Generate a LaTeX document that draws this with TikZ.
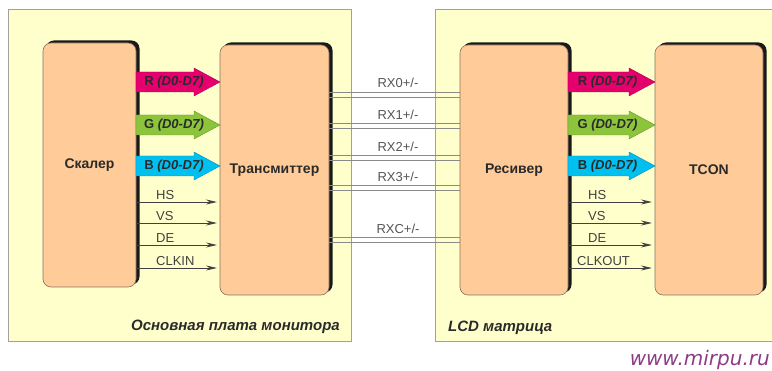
\documentclass[tikz,border=0pt]{standalone}
\usepackage{fontspec}
\setmainfont{Liberation Sans}
\newfontfamily\wmfont{DejaVu Sans}
\usetikzlibrary{calc,arrows.meta}
\definecolor{panelfill}{HTML}{FFFFCC}
\definecolor{panelline}{HTML}{A0A0A0}
\definecolor{boxfill}{HTML}{FFCC99}
\definecolor{boxline}{HTML}{8A7060}
\definecolor{rcol}{HTML}{E6006E}
\definecolor{gcol}{HTML}{8CC43C}
\definecolor{bcol}{HTML}{00C0F0}
\definecolor{txt}{HTML}{2A2A2A}
\definecolor{sigtxt}{HTML}{404040}
\definecolor{rxtxt}{HTML}{555555}
\definecolor{rxline}{HTML}{8A8A8A}
\definecolor{wm}{HTML}{8E3B86}
\tikzset{
  panel/.style={fill=panelfill,draw=panelline,line width=0.8pt},
  boxshadow/.style={fill=black!90,rounded corners=8pt},
  box/.style={rounded corners=8pt,fill=boxfill,draw=boxline,line width=0.6pt,
    outer sep=0pt,inner sep=0pt,font=\fontsize{14}{16}\selectfont\bfseries,text=txt},
  sig/.style={draw=sigtxt,line width=0.9pt,-{Stealth[length=11pt,width=5pt]},shorten >=3pt},
  siglabel/.style={anchor=base west,inner sep=0pt,text=sigtxt,font=\fontsize{13}{15}\selectfont},
  rxlabel/.style={anchor=base,inner sep=0pt,text=rxtxt,font=\fontsize{13}{15}\selectfont},
  rxwire/.style={draw=rxline,line width=0.7pt},
  fatlabel/.style={inner sep=0pt,text=txt,font=\fontsize{13}{15}\selectfont\bfseries},
  paneltext/.style={inner sep=0pt,text=txt,font=\fontsize{15}{17}\selectfont\bfseries\itshape}
}
% #1 from, #2 to, #3 y, #4 colour, #5 label node name, #6 letter
\newcommand\fatarr[6]{%
  \path (#1.east |- 0,#3) coordinate (#5a) (#2.west |- 0,#3) coordinate (#5b);
  \draw[fill=#4,draw=#4!75!black,line width=0.4pt]
    ($(#5a)+(0,-10)$) -- ($(#5b)+(-26,-10)$) -- ($(#5b)+(-26,-14)$) -- (#5b)
    -- ($(#5b)+(-26,14)$) -- ($(#5b)+(-26,10)$) -- ($(#5a)+(0,10)$) -- cycle;
  \node[fatlabel] (#5) at ($(#5a)!0.5!(#5b)+(-4,0)$) {#6 \itshape(D0-D7)};
}
\begin{document}
\begin{tikzpicture}[x=1pt,y=-1pt]
\useasboundingbox (0,0) rectangle (772,371);
\clip (0,0) rectangle (772,371);
% panels
\draw[panel] (8,9) rectangle (351,341);
\draw[panel] (435,9) rectangle (790,341);
\node[paneltext,anchor=east] (lp) at (340,327) {Основная плата монитора};
\node[paneltext,anchor=west] (rp) at (448,328) {LCD матрица};
% box shadows (offset up and right)
\fill[boxshadow] (46,40.5) rectangle (139.5,284.5);
\fill[boxshadow] (223,42.5) rectangle (332.5,292.5);
\fill[boxshadow] (463,42.5) rectangle (571.5,292.5);
\fill[boxshadow] (658,42.5) rectangle (766.5,292.5);
% boxes
\node[box,minimum width=93pt,minimum height=244pt] (scaler) at (89.5,165) {Скалер};
\node[box,minimum width=109pt,minimum height=250pt] (trans) at (274.5,170) {Трансмиттер};
\node[box,minimum width=108pt,minimum height=250pt] (recv) at (514,170) {Ресивер};
\node[box,minimum width=108pt,minimum height=250pt] (tcon) at (709,170) {TCON};
% fat arrows
\fatarr{scaler}{trans}{82}{rcol}{lr}{R}
\fatarr{scaler}{trans}{125}{gcol}{lg}{G}
\fatarr{scaler}{trans}{166}{bcol}{lb}{B}
\fatarr{recv}{tcon}{82}{rcol}{rr}{R}
\fatarr{recv}{tcon}{125}{gcol}{rg}{G}
\fatarr{recv}{tcon}{166}{bcol}{rb}{B}
% sync signals
\foreach \yy/\nm/\lab in {202/hs/HS,223/vs/VS,245/de/DE,268/ck/CLKIN}{
  \draw[sig] (scaler.east |- 0,\yy) -- (trans.west |- 0,\yy);
  \node[siglabel] (l\nm) at (156,\yy-2) {\lab};
}
\foreach \yy/\nm/\lab/\xx in {202/hs/HS/588,223/vs/VS/588,245/de/DE/588,268/ck/CLKOUT/577}{
  \draw[sig] (recv.east |- 0,\yy) -- (tcon.west |- 0,\yy);
  \node[siglabel] (r\nm) at (\xx,\yy-2) {\lab};
}
% LVDS pairs
\foreach \yy/\nm/\lab/\by in {92/rx0/{RX0+/-}/88,123/rx1/{RX1+/-}/120,155/rx2/{RX2+/-}/152,185/rx3/{RX3+/-}/182,237/rxc/{RXC+/-}/234}{
  \draw[rxwire] (trans.east |- 0,\yy) -- (recv.west |- 0,\yy);
  \draw[rxwire] (trans.east |- 0,\yy+5) -- (recv.west |- 0,\yy+5);
  \node[rxlabel] (\nm) at (398,\by) {\lab};
}
% watermark
\node[anchor=base east,inner sep=0pt,text=wm,font=\wmfont\itshape\fontsize{20}{24}\selectfont] (wmk) at (770,366) {www.mirpu.ru};
\end{tikzpicture}
\end{document}
